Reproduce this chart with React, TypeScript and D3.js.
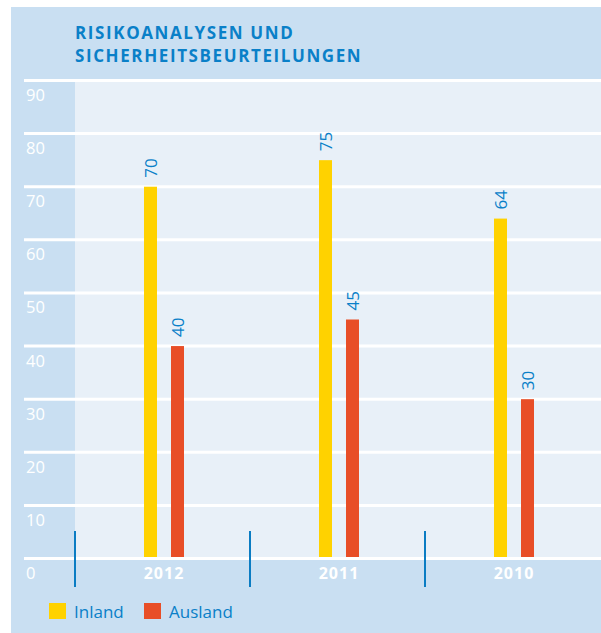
import React from "react";
import * as d3 from "d3";

const years = ["2012", "2011", "2010"];
const series = ["Inland", "Ausland"];
const inland = [70, 75, 64];
const ausland = [40, 45, 30];
const yTicks = [0, 10, 20, 30, 40, 50, 60, 70, 80, 90];
const titleLines = ["RISIKOANALYSEN UND", "SICHERHEITSBEURTEILUNGEN"];

const W = 601;
const H = 633;
const COLORS = { Inland: "#ffd200", Ausland: "#e84e27" } as Record<string, string>;
const PANEL = "#c9dff2";
const INNER = "#e8f0f8";
const BLUE = "#0a80c8";
const FONT = "'Open Sans', 'Noto Sans', sans-serif";

export default function App() {
  const y = d3.scaleLinear().domain([0, 90]).range([558.5, 80.5]);
  const x0 = d3.scaleBand<string>().domain(years).range([75, 600]).padding(0);
  const x1 = d3
    .scaleBand<string>()
    .domain(series)
    .range([0, 40])
    .paddingInner(14 / 27)
    .paddingOuter(0);
  const values: Record<string, number[]> = { Inland: inland, Ausland: ausland };
  const groupStart = (yr: string) => x0(yr)! + x0.bandwidth() / 2 + 1.5 - 20;

  return (
    <svg
      width={W}
      height={H}
      style={{ position: "absolute", left: 0, top: 0 }}
      fontFamily={FONT}
    >
      <rect x={11} y={7} width={W - 11} height={H - 7} fill={PANEL} />
      <rect x={75} y={y(90)} width={W - 75} height={y(0) - y(90)} fill={INNER} />
      {titleLines.map((t, i) => (
        <text
          key={t}
          x={75}
          y={39 + i * 23}
          fill={BLUE}
          fontSize={17}
          fontWeight={700}
          letterSpacing={1.6}
        >
          {t}
        </text>
      ))}
      {yTicks.map((v) => (
        <g key={v}>
          <line x1={24} x2={W} y1={y(v)} y2={y(v)} stroke="#ffffff" strokeWidth={3} />
          <text x={26} y={y(v) + 20.5} fill="#ffffff" fontSize={16.5}>
            {v}
          </text>
        </g>
      ))}
      {years.map((yr, gi) => (
        <g key={yr}>
          {series.map((s) => {
            const v = values[s][gi];
            const bx = groupStart(yr) + x1(s)!;
            return (
              <g key={s}>
                <rect
                  x={bx}
                  y={y(v)}
                  width={x1.bandwidth()}
                  height={y(0) - 1.5 - y(v)}
                  fill={COLORS[s]}
                />
                <text
                  transform={`translate(${bx + x1.bandwidth() / 2 + 6},${y(v) - 9}) rotate(-90)`}
                  fill={BLUE}
                  fontSize={17}
                >
                  {v}
                </text>
              </g>
            );
          })}
          <text
            x={x0(yr)! + x0.bandwidth() / 2 + 1.5}
            y={579}
            textAnchor="middle"
            fill="#ffffff"
            fontSize={16}
            fontWeight={700}
            letterSpacing={1}
          >
            {yr}
          </text>
          <line
            x1={x0(yr)!}
            x2={x0(yr)!}
            y1={531}
            y2={587}
            stroke="#0a7cc3"
            strokeWidth={2}
          />
        </g>
      ))}
      {series.map((s, i) => {
        const lx = i === 0 ? 49 : 144;
        return (
          <g key={s}>
            <rect x={lx} y={603} width={17} height={16} fill={COLORS[s]} />
            <text x={lx + 25} y={618} fill={BLUE} fontSize={17}>
              {s}
            </text>
          </g>
        );
      })}
    </svg>
  );
}
